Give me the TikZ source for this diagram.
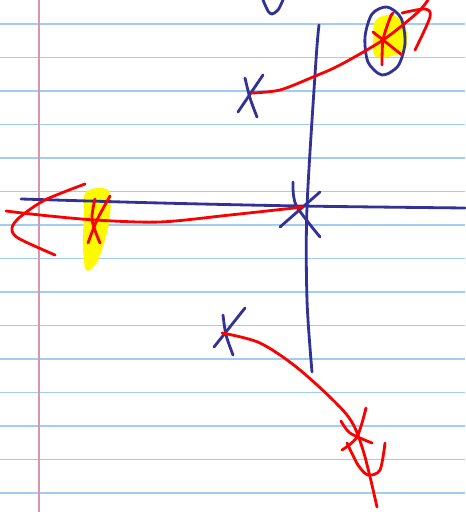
\documentclass[tikz,border=0pt]{standalone}
\usepackage{tikz}
\usetikzlibrary{calc}

\definecolor{inkblue}{RGB}{50,50,150}
\definecolor{inkred}{RGB}{250,0,0}
\definecolor{hilite}{RGB}{255,250,0}
\definecolor{rule}{RGB}{160,205,245}
\definecolor{margin}{RGB}{215,150,170}

\begin{document}
\begin{tikzpicture}[x=0.03cm,y=-0.03cm,
  bluepen/.style={draw=inkblue,line width=2.4pt,line cap=round,line join=round},
  redpen/.style={draw=inkred,line width=2.4pt,line cap=round,line join=round},
  marker/.style={fill=hilite,draw=none}]
\useasboundingbox[fill=white] (0,0) rectangle (465,512);
% paper
\foreach \k in {0,...,14}
  \draw[rule,line width=1.3pt] (0,24+33.5*\k) -- (465,24+33.5*\k);
\draw[margin,line width=1.8pt] (39,0) -- (39,512);
% key points
\coordinate (origin) at (303,207);
\coordinate (upper) at (252,93);
\coordinate (lower) at (222,333);
% highlighter
\fill[marker] plot[smooth cycle,tension=0.6] coordinates
  {(86,192) (108,190) (110,215) (104,243) (96,264) (86,270) (83,245) (84,215)};
\fill[marker] plot[smooth cycle,tension=0.6] coordinates
  {(376,20) (392,15) (405,25) (406,48) (392,56) (375,56) (373,38)};
% axes
\draw[bluepen] plot[smooth] coordinates {(319,25) (316,60) (307,207) (307,300) (312,372)};
\draw[bluepen] plot[smooth] coordinates {(21,199) (160,203) (300,206) (465,208)};
\draw[bluepen] plot[smooth] coordinates {(263,0) (268,11) (272,14) (278,10) (283,0)};
% zeros and poles
\draw[bluepen] (280,227) -- (320,192);
\draw[bluepen] plot[smooth] coordinates {(293,182) (296,205) (320,237)};
\draw[bluepen] plot[smooth] coordinates {(245,78) (250,98) (257,117)};
\draw[bluepen] (263,75) -- (238,112);
\draw[bluepen] plot[smooth] coordinates {(223,315) (226,335) (233,355)};
\draw[bluepen] (245,308) -- (214,347);
\draw[bluepen] plot[smooth cycle] coordinates
  {(387,7) (401,18) (405,43) (398,66) (382,75) (368,62) (365,37) (372,14)};
% loci
\draw[redpen] plot[smooth] coordinates
  {(upper) (280,90) (313,77) (340,65) (383,40) (417,13) (428,0)};
\draw[redpen] plot[smooth] coordinates {(402,13) (425,9) (430,17) (415,50)};
\draw[redpen] (373,32) -- (402,55);
\draw[redpen] plot[smooth] coordinates {(382,65) (383,40) (390,18) (393,13)};
\draw[redpen] plot[smooth] coordinates
  {(origin) (230,215) (160,222) (95,220) (40,215) (6,211)};
\draw[redpen] plot[smooth] coordinates {(85,184) (45,200) (20,217) (12,228) (18,238) (55,255)};
\draw[redpen] plot[smooth] coordinates {(110,196) (97,220) (88,243)};
\draw[redpen] plot[smooth] coordinates {(95,199) (92,220) (100,243)};
\draw[redpen] plot[smooth] coordinates
  {(lower) (260,343) (300,370) (347,415) (363,450) (377,507)};
\draw[redpen] plot[smooth] coordinates {(366,408) (357,437) (342,450)};
\draw[redpen] plot[smooth] coordinates {(341,421) (350,433) (372,443)};
\draw[redpen] plot[smooth] coordinates {(347,443) (358,465) (368,475) (380,470) (385,443)};
\end{tikzpicture}
\end{document}
